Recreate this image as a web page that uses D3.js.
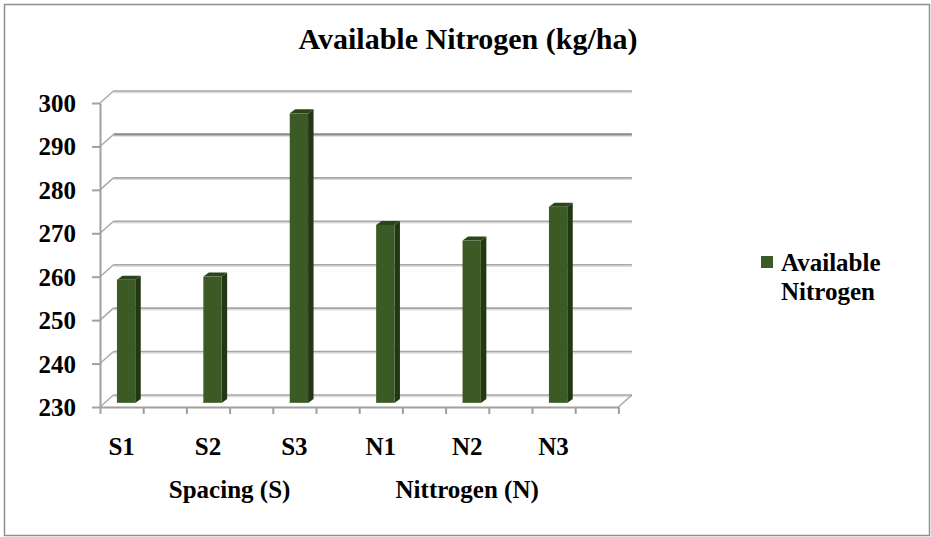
<!DOCTYPE html>
<html>
<head>
<meta charset="utf-8">
<script src="https://cdn.jsdelivr.net/npm/d3@7"></script>
<style>
  html, body { margin: 0; padding: 0; background: #fff; }
  svg { display: block; }
  text { font-family: "Liberation Serif", "Tinos", "Times New Roman", "DejaVu Serif", serif; font-weight: bold; fill: #000; }
</style>
</head>
<body>
<svg id="chart" width="931" height="537"></svg>
<script>
// ---- data ----
const categories = ["S1", "S2", "S3", "N1", "N2", "N3"];
const values = [258.4, 259.1, 296.7, 271.0, 267.4, 275.2];
const seriesName = ["Available", "Nitrogen"];
const yTicks = [230, 240, 250, 260, 270, 280, 290, 300];
const groupLabels = ["Spacing (S)", "Nittrogen (N)"];
const groupSlots = [[0, 6], [6, 11]];
const title = "Available Nitrogen (kg/ha)";

// ---- layout ----
const FONT = '"Liberation Serif", "Tinos", "Times New Roman", "DejaVu Serif", serif';
const nSlots = 12;
const depth = { dx: 13.5, dy: -12 };
const barOff = { dx: 4.5, dy: -4 };
const barSide = { dx: 5.5, dy: -4 };
const svg = d3.select("#chart");

svg.append("rect").attr("x", 4.5).attr("y", 4.5).attr("width", 925).attr("height", 531)
  .attr("fill", "#fff").attr("stroke", "#8f8f8f").attr("stroke-width", 1.5);

const yFront = d3.scaleLinear().domain([230, 300]).range([407, 103]);
const xFront = d3.scaleLinear().domain([0, nSlots]).range([100, 618.4]);
const slotBand = d3.scaleBand().domain(d3.range(nSlots)).range([100, 618.4]).paddingInner(0.58).paddingOuter(0.29);

// back wall gridlines + left wall diagonals
const grid = svg.append("g");
yTicks.forEach(v => {
  const yb = yFront(v) + depth.dy;
  const x0 = xFront(0) + depth.dx, x1 = xFront(nSlots) + depth.dx;
  grid.append("line").attr("x1", x0).attr("x2", x1).attr("y1", yb + 1.5).attr("y2", yb + 1.5)
    .attr("stroke", "#dcdcdc").attr("stroke-width", 1.5);
  grid.append("line").attr("x1", x0).attr("x2", x1).attr("y1", yb).attr("y2", yb)
    .attr("stroke", v === 290 ? "#8a8a8a" : "#a6a6a6").attr("stroke-width", v === 290 ? 2.2 : 1.6);
  grid.append("line").attr("x1", xFront(0)).attr("y1", yFront(v))
    .attr("x2", xFront(0) + depth.dx).attr("y2", yb)
    .attr("stroke", "#a6a6a6").attr("stroke-width", 1.4);
});
grid.append("line").attr("x1", xFront(nSlots)).attr("y1", yFront(230))
  .attr("x2", xFront(nSlots) + depth.dx).attr("y2", yFront(230) + depth.dy)
  .attr("stroke", "#a6a6a6").attr("stroke-width", 1.4);

// bars
const bars = svg.append("g");
const bw = 18.3;
categories.forEach((c, i) => {
  const slot = 2 * i;
  const cx = slotBand(slot) + slotBand.bandwidth() / 2 + barOff.dx;
  const x0 = cx - bw / 2, x1 = cx + bw / 2;
  const yb = yFront(230) + barOff.dy;
  const yt = yFront(values[i]) + barOff.dy;
  bars.append("path").attr("d", `M${x1},${yt}L${x1 + barSide.dx},${yt + barSide.dy}L${x1 + barSide.dx},${yb + barSide.dy}L${x1},${yb}Z`)
    .attr("fill", "#223814");
  bars.append("path").attr("d", `M${x0},${yt}L${x0 + barSide.dx},${yt + barSide.dy}L${x1 + barSide.dx},${yt + barSide.dy}L${x1},${yt}Z`)
    .attr("fill", "#2b4519");
  bars.append("rect").attr("x", x0).attr("y", yt).attr("width", bw).attr("height", yb - yt)
    .attr("fill", "#3b5a25");
  bars.append("line").attr("x1", x0).attr("x2", x1).attr("y1", yb - 0.5).attr("y2", yb - 0.5)
    .attr("stroke", "#5d7a49").attr("stroke-width", 1);
});

// y axis
const yAxis = svg.append("g").attr("transform", "translate(100,0)")
  .call(d3.axisLeft(yFront).tickValues(yTicks).tickSize(8).tickSizeOuter(0).tickPadding(16));
yAxis.attr("font-family", null).attr("font-size", null);
yAxis.select(".domain").attr("stroke", "#a0a0a0").attr("stroke-width", 2);
yAxis.selectAll(".tick line").attr("stroke", "#a0a0a0").attr("stroke-width", 2);
yAxis.selectAll(".tick text").style("font-family", FONT)
  .style("font-weight", "bold").style("font-size", "25px").attr("fill", "#000").attr("dy", "0.34em");

// x axis (slot boundary ticks)
const xAxis = svg.append("g").attr("transform", `translate(0,${yFront(230)})`)
  .call(d3.axisBottom(xFront).tickValues(d3.range(nSlots + 1)).tickSize(7).tickSizeOuter(0).tickFormat(""));
xAxis.select(".domain").attr("stroke", "#a0a0a0").attr("stroke-width", 2);
xAxis.selectAll(".tick line").attr("stroke", "#a0a0a0").attr("stroke-width", 2);

// category labels
svg.append("g").selectAll("text").data(categories).join("text")
  .attr("x", (d, i) => xFront(2 * i + 0.5)).attr("y", 455)
  .attr("text-anchor", "middle").style("font-family", FONT).style("font-size", "25px").text(d => d);

// group labels
svg.append("g").selectAll("text").data(groupLabels).join("text")
  .attr("x", (d, i) => xFront((groupSlots[i][0] + groupSlots[i][1]) / 2)).attr("y", 498)
  .attr("text-anchor", "middle").style("font-family", FONT).style("font-size", "25px").text(d => d);

// title
svg.append("text").attr("x", 468).attr("y", 49).attr("text-anchor", "middle")
  .style("font-family", FONT).style("font-size", "30px").text(title);

// legend
svg.append("rect").attr("x", 761).attr("y", 256).attr("width", 12).attr("height", 12).attr("fill", "#3b5a25");
svg.append("text").attr("x", 781).attr("y", 271).style("font-family", FONT).style("font-size", "25px").text(seriesName[0]);
svg.append("text").attr("x", 781).attr("y", 300).style("font-family", FONT).style("font-size", "25px").text(seriesName[1]);
</script>
</body>
</html>
